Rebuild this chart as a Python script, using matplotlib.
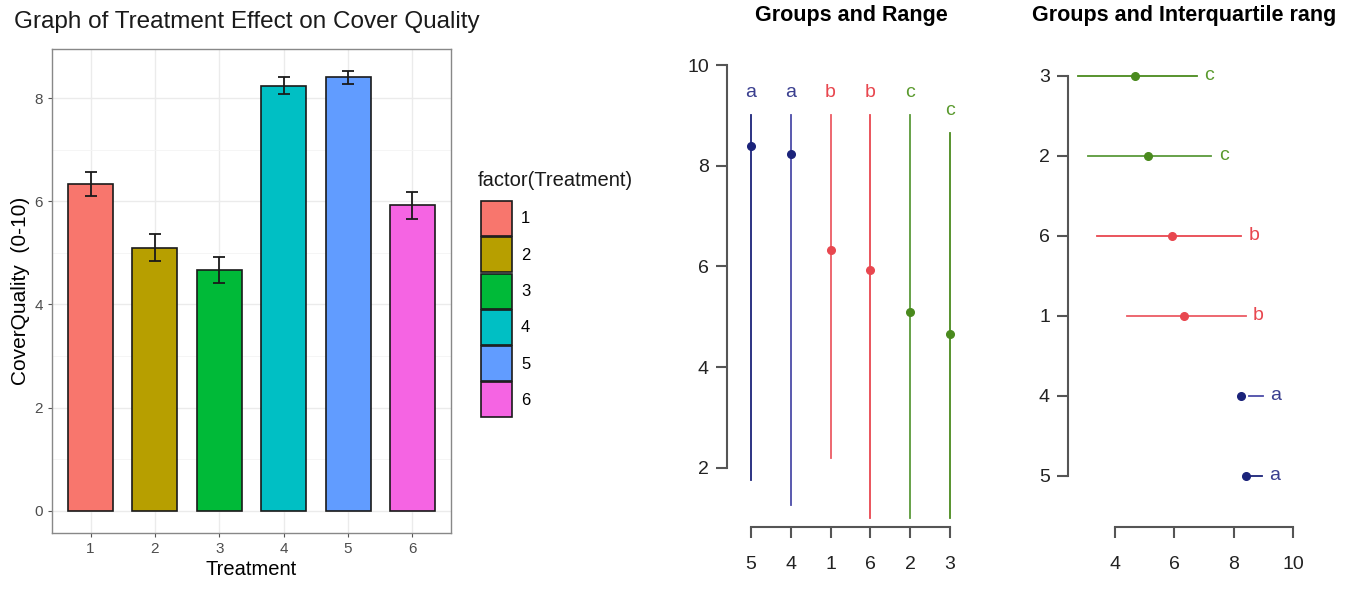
import matplotlib.pyplot as plt
import numpy as np

plt.rcParams['font.family'] = ['Liberation Sans', 'DejaVu Sans']

# bar chart data
treatment = ['1', '2', '3', '4', '5', '6']
cover_mean = [6.33, 5.10, 4.66, 8.24, 8.40, 5.92]
cover_se = [0.23, 0.26, 0.25, 0.17, 0.13, 0.26]
bar_colors = ['#F8766D', '#B79F00', '#00BA38', '#00BFC4', '#619CFF', '#F564E3']

# grouped treatments (sorted by mean)
group_order = ['5', '4', '1', '6', '2', '3']
group_mean = [8.40, 8.24, 6.33, 5.92, 5.10, 4.66]
group_max = [9.0, 9.0, 9.0, 9.0, 9.0, 8.65]
group_min = [1.75, 1.25, 2.2, 1.0, 1.0, 1.0]
group_q25 = [8.5, 8.5, 4.4, 3.4, 3.1, 2.75]
group_q75 = [8.95, 9.0, 8.4, 8.25, 7.25, 6.75]
group_letter = ['a', 'a', 'b', 'b', 'c', 'c']

point_colors = {'a': '#1B237A', 'b': '#E8474F', 'c': '#4A8A1E'}
text_colors = {'a': '#3A3F8F', 'b': '#E8474F', 'c': '#5A9A2E'}
line_colors = ['#1B237A', '#4C4CA8', '#EC5C64', '#E8474F', '#5A9A3A', '#4A8A1E']

W, H = 1347, 589
fig = plt.figure(figsize=(W / 100, H / 100), dpi=100)


def rect(x0, y0, x1, y1):
    return [x0 / W, 1 - y1 / H, (x1 - x0) / W, (y1 - y0) / H]


# ---- left: ggplot style bar chart ----
ax1 = fig.add_axes(rect(52, 49, 451, 533))
x = np.arange(1, len(treatment) + 1)
bars = ax1.bar(x, cover_mean, width=0.7, color=bar_colors, edgecolor='#1a1a1a',
               linewidth=1.2, zorder=3, label=treatment)
ax1.errorbar(x, cover_mean, yerr=cover_se, fmt='none', ecolor='#1a1a1a',
             elinewidth=1.3, capsize=4.5, capthick=1.3, zorder=4)
ax1.set_xlim(0.4, 6.6)
ax1.set_ylim(-0.43, 8.95)
ax1.set_xticks(x)
ax1.set_xticklabels(treatment)
ax1.set_yticks([0, 2, 4, 6, 8])
ax1.set_yticks([1, 3, 5, 7], minor=True)
ax1.grid(which='major', color='#EBEBEB', linewidth=1.0, zorder=0)
ax1.grid(which='minor', axis='y', color='#F4F4F4', linewidth=0.6, zorder=0)
for s in ax1.spines.values():
    s.set_color('#888888')
    s.set_linewidth(1.0)
ax1.tick_params(which='major', length=3, color='#555555', labelcolor='#4D4D4D', labelsize=11)
ax1.tick_params(which='minor', length=0)
ax1.set_xlabel('Treatment', fontsize=14.5, labelpad=3)
ax1.set_ylabel('CoverQuality  (0-10)', fontsize=15, labelpad=3)
fig.text(14 / W, 1 - 22 / H, 'Graph of Treatment Effect on Cover Quality', fontsize=17.5,
         va='center', ha='left', color='#1a1a1a')

fig.text(478 / W, 1 - 180 / H, 'factor(Treatment)', fontsize=14.5, ha='left', va='center',
         color='#1a1a1a')
leg = ax1.legend(bars, treatment, loc='upper left',
                 bbox_to_anchor=(466 / W, 1 - 186 / H), bbox_transform=fig.transFigure,
                 frameon=False, fontsize=12, handlelength=1.85,
                 handleheight=2.85, labelspacing=0.08, handletextpad=0.55)

# ---- middle: groups and range ----
ax2 = fig.add_axes(rect(727, 45, 974, 527))
pos = np.arange(1, len(group_order) + 1)
for i in range(len(group_order)):
    ax2.plot([pos[i], pos[i]], [group_min[i], group_max[i]], color=line_colors[i], lw=1.3)
    ax2.plot(pos[i], group_mean[i], 'o', color=point_colors[group_letter[i]], ms=5.5)
    ax2.text(pos[i], group_max[i] + 0.45, group_letter[i], ha='center', va='center',
             color=text_colors[group_letter[i]], fontsize=14)
ax2.set_xlim(0.4, 6.6)
ax2.set_ylim(0.82, 10.4)
ax2.set_xticks(pos)
ax2.set_xticklabels(group_order)
ax2.set_yticks([2, 4, 6, 8, 10])
for side in ['top', 'right']:
    ax2.spines[side].set_visible(False)
ax2.spines['left'].set_bounds(2, 10)
ax2.spines['bottom'].set_bounds(1, 6)
for side in ['left', 'bottom']:
    ax2.spines[side].set_color('#555555')
    ax2.spines[side].set_linewidth(1.5)
ax2.tick_params(length=8, width=1.5, color='#555555', labelsize=14, labelcolor='#222222', pad=5)
ax2.tick_params(axis='x', pad=13)
fig.text(851 / W, 1 - 16 / H, 'Groups and Range', fontsize=15.5, fontweight='bold',
         ha='center', va='center')

# ---- right: groups and interquartile range ----
ax3 = fig.add_axes(rect(1068, 36, 1311, 527))
for i in range(len(group_order)):
    ax3.plot([group_q25[i], group_q75[i]], [pos[i], pos[i]], color=line_colors[i], lw=1.3)
    ax3.plot(group_mean[i], pos[i], 'o', color=point_colors[group_letter[i]], ms=5.5)
    ax3.text(group_q75[i] + 0.42, pos[i], group_letter[i], ha='center', va='center',
             color=text_colors[group_letter[i]], fontsize=14)
ax3.set_xlim(2.42, 10.6)
ax3.set_ylim(0.36, 6.5)
ax3.set_yticks(pos)
ax3.set_yticklabels(group_order)
ax3.set_xticks([4, 6, 8, 10])
for side in ['top', 'right']:
    ax3.spines[side].set_visible(False)
ax3.spines['left'].set_bounds(1, 6)
ax3.spines['bottom'].set_bounds(4, 10)
for side in ['left', 'bottom']:
    ax3.spines[side].set_color('#555555')
    ax3.spines[side].set_linewidth(1.5)
ax3.tick_params(length=8, width=1.5, color='#555555', labelsize=14, labelcolor='#222222', pad=5)
ax3.tick_params(axis='x', pad=13)
fig.text(1032 / W, 1 - 16 / H, 'Groups and Interquartile rang', fontsize=15.5,
         fontweight='bold', ha='left', va='center')

plt.savefig('out.png', dpi=100)
